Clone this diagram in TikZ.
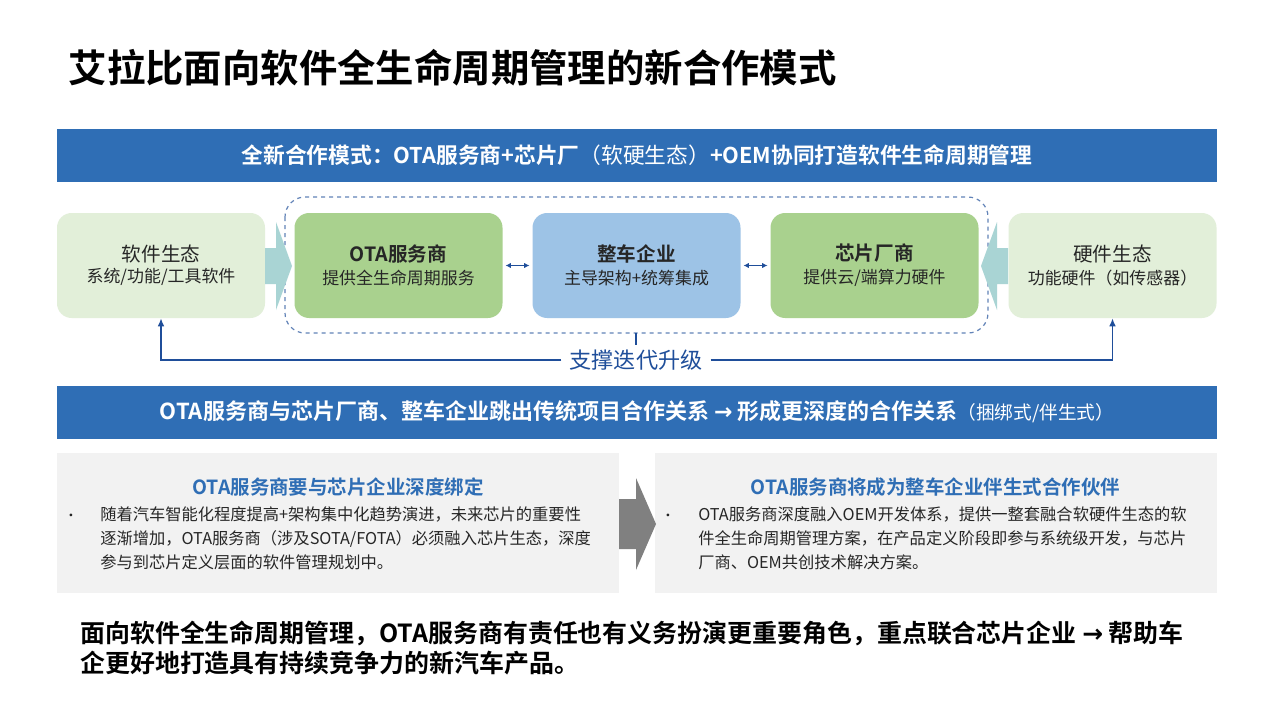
\documentclass[tikz,border=0pt]{standalone}
\usepackage{fontspec}
\setmainfont{Noto Sans CJK SC}[BoldFont={* Bold}]
\XeTeXlinebreaklocale "zh"
\XeTeXlinebreakskip=0pt plus 1pt
\usetikzlibrary{arrows.meta,shapes.arrows}
\definecolor{bann}{HTML}{2F6EB5}
\definecolor{lg}{HTML}{E2EFD9}
\definecolor{mg}{HTML}{A9D18E}
\definecolor{lb}{HTML}{9DC3E6}
\definecolor{tl}{HTML}{A9D4D4}
\definecolor{dk}{HTML}{1F4E9A}
\definecolor{gb}{HTML}{F2F2F2}
\definecolor{tx}{HTML}{262626}
\begin{document}
\begin{tikzpicture}[x=0.75pt,y=-0.75pt,
 banner/.style={fill=bann,text=white,inner sep=0,minimum width=870pt,minimum height=39.75pt,font=\bfseries\fontsize{16.3}{19}\selectfont},
 card/.style={rounded corners=11pt,inner sep=0,minimum width=156pt,minimum height=78.75pt,align=center,text=tx},
 conn/.style={dk,line width=1pt,{Latex[length=4pt,width=4pt]}-{Latex[length=4pt,width=4pt]}},
 gbox/.style={fill=gb,inner sep=0,minimum width=421.5pt,minimum height=105pt}]
\useasboundingbox (0,0) rectangle (1280,714);
\fill[white] (0,0) rectangle (1280,714);
\node[anchor=west,font=\bfseries\fontsize{28.8}{32}\selectfont,text=black] (title) at (64,68) {艾拉比面向软件全生命周期管理的新合作模式};
\node[banner] (b1) at (637,155) {全新合作模式：OTA服务商+芯片厂\mdseries（软硬生态）\bfseries+OEM协同打造软件生命周期管理};
\draw[dk!70,dashed,line width=0.9pt,rounded corners=15pt] (285,197) rectangle (988,333);
\coordinate (dashbot) at (636,333);
\node[card,fill=lg] (sw) at (161,265.5) {\fontsize{14.7}{20}\selectfont 软件生态\\[4pt]\fontsize{12.7}{15}\selectfont 系统/功能/工具软件};
\node[card,fill=mg] (ota) at (398.5,265.5) {\bfseries\fontsize{14.7}{20}\selectfont OTA服务商\\[4pt]\mdseries\fontsize{12.7}{15}\selectfont 提供全生命周期服务};
\node[card,fill=lb] (oem) at (636.5,265.5) {\bfseries\fontsize{14.7}{20}\selectfont 整车企业\\[4pt]\mdseries\fontsize{12.7}{15}\selectfont 主导架构+统筹集成};
\node[card,fill=mg] (chip) at (874.5,265.5) {\bfseries\fontsize{14.7}{20}\selectfont 芯片厂商\\[4pt]\mdseries\fontsize{12.7}{15}\selectfont 提供云/端算力硬件};
\node[card,fill=lg] (hw) at (1112.5,265.5) {\fontsize{14.7}{20}\selectfont 硬件生态\\[4pt]\fontsize{12.7}{15}\selectfont 功能硬件（如传感器）};
\fill[tl] (265,248) -- (276,248) -- (276,222) -- (292,266) -- (276,310) -- (276,284) -- (265,284) -- cycle;
\fill[tl] (1008,248) -- (997,248) -- (997,222) -- (981,266) -- (997,310) -- (997,284) -- (1008,284) -- cycle;
\draw[conn] ([xshift=2pt]ota.east) -- ([xshift=-2pt]oem.west);
\draw[conn] ([xshift=2pt]oem.east) -- ([xshift=-2pt]chip.west);
\node[fill=white,text=dk,inner xsep=6pt,font=\fontsize{16.6}{19}\selectfont] (sup) at (636,360) {支撑迭代升级};
\draw[dk,line width=1.1pt] (dashbot) -- (sup.north);
\draw[dk,line width=1.1pt,-{Latex[length=6pt,width=5pt]}] (sup.west) -| (sw.south);
\draw[dk,line width=1.1pt,-{Latex[length=6pt,width=5pt]}] (sup.east) -| (hw.south);
\node[banner,font=\bfseries\fontsize{16.5}{19}\selectfont] (b2) at (637,412) {OTA服务商与芯片厂商、整车企业跳出传统项目合作关系 {\fontspec{DejaVu Sans}\bfseries→} 形成更深度的合作关系\mdseries\fontsize{14}{16}\selectfont（捆绑式/伴生式）};
\node[gbox] (g1) at (338,523) {};
\node[gbox] (g2) at (935.5,523) {};
\fill[black!50] (619,499) -- (636,499) -- (636,478) -- (656,524) -- (636,570) -- (636,549) -- (619,549) -- cycle;
\node[text=bann,font=\bfseries\fontsize{14.6}{17}\selectfont] (t1) at (338,487) {OTA服务商要与芯片企业深度绑定};
\node[text=bann,font=\bfseries\fontsize{14.6}{17}\selectfont] (t2) at (935.5,487) {OTA服务商将成为整车企业伴生式合作伙伴};
\node[anchor=north west,text=tx,font=\fontsize{12.2}{18}\selectfont,align=left,inner sep=0] (p1) at (100,506) {随着汽车智能化程度提高+架构集中化趋势演进，未来芯片的重要性\\逐渐增加，OTA服务商（涉及SOTA/FOTA）必须融入芯片生态，深度\\参与到芯片定义层面的软件管理规划中。};
\node[text=tx,font=\fontsize{10}{12}\selectfont] (d1) at (71,517) {•};
\node[anchor=north west,text=tx,font=\fontsize{12.2}{18}\selectfont,align=left,inner sep=0] (p2) at (698,506) {OTA服务商深度融入OEM开发体系，提供一整套融合软硬件生态的软\\件全生命周期管理方案，在产品定义阶段即参与系统级开发，与芯片\\厂商、OEM共创技术解决方案。};
\node[text=tx,font=\fontsize{10}{12}\selectfont] (d2) at (668,517) {•};
\node[anchor=north west,text=black,inner sep=0,align=left,font=\bfseries\fontsize{18.7}{22}\selectfont] (bot) at (80,621) {面向软件全生命周期管理，OTA服务商有责任也有义务扮演更重要角色，重点联合芯片企业 {\fontspec{DejaVu Sans}\bfseries →} 帮助车\\企更好地打造具有持续竞争力的新汽车产品。};
\end{tikzpicture}
\end{document}
